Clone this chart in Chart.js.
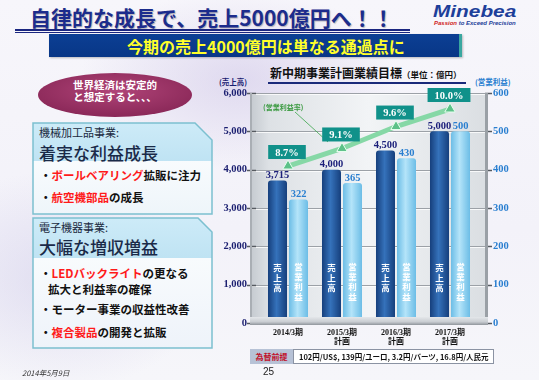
<!DOCTYPE html>
<html lang="ja">
<head>
<meta charset="utf-8">
<script src="https://cdn.jsdelivr.net/npm/chart.js@4.4.1/dist/chart.umd.min.js"></script>
<style>
  html, body { margin: 0; padding: 0; }
  body { width: 539px; height: 380px; overflow: hidden; }
  #slide {
    position: relative; width: 539px; height: 380px; overflow: hidden;
    font-family: "Noto Sans CJK JP", "Noto Sans", sans-serif;
    background:
      radial-gradient(ellipse 160px 90px at 240px 80px, rgba(205,195,230,0.55), rgba(205,195,230,0) 100%),
      radial-gradient(ellipse 150px 110px at 60px 280px, rgba(200,195,230,0.45), rgba(200,195,230,0) 100%),
      linear-gradient(180deg, #f7f6fb 0%, #f3f2f9 60%, #f6f6fa 100%);
  }
  .t { position: absolute; white-space: nowrap; line-height: 1; }
  .title { left: 30px; top: 7px; font-size: 21px; font-weight: 700; color: #1c2c8c; text-shadow: 1px 1px 1px rgba(0,0,0,0.25); }
  .rule { position: absolute; left: 15px; width: 395px; background: #1a2680; }
  .r1 { top: 29px; height: 2px; }
  .r2 { top: 32px; height: 1px; }
  .logo { left: 433px; top: 4px; font-family: "Liberation Sans", sans-serif; font-style: italic; font-weight: 700; font-size: 16px; color: #1d3f9a; transform: scaleX(1.3); transform-origin: left top; }
  .tagline { left: 434px; top: 20px; font-family: "Liberation Sans", sans-serif; font-style: italic; font-weight: 700; font-size: 6px; color: #1d3f9a; }
  .tagline span { color: #d02020; }
  .banner { position: absolute; left: 49px; top: 34px; width: 410px; height: 23px; background: linear-gradient(180deg, #0c3f94, #083686); border-right: 3px solid #3aa7a0; box-shadow: 1px 1px 2px rgba(0,0,0,0.25); }
  .banner-text { left: 127px; top: 38px; font-size: 16px; font-weight: 700; color: #ffff2a; }
  .oval { color: #fff; font-size: 10.5px; font-weight: 700; width: 154px; left: 38px; text-align: center; }
  .hd1 { left: 39px; font-size: 11px; color: #1a2a40; }
  .hd2 { left: 39px; font-size: 17px; color: #1a2a48; font-weight: 500; }
  .bl { left: 40px; font-size: 11.5px; font-weight: 700; color: #111; }
  .red { color: #ff1a1a; }
  .ctitle { left: 270px; top: 67px; font-size: 12px; font-weight: 700; color: #111; }
  .ctitle small { font-size: 8.5px; font-weight: 700; }
  .cline { position: absolute; left: 268px; top: 82px; width: 198px; height: 1.5px; background: #1a2a7a; }
  .axl { left: 219px; top: 78px; font-size: 7.5px; font-weight: 700; color: #1a2070; }
  .axr { left: 475px; top: 78px; font-size: 7.5px; font-weight: 700; color: #2a7fd0; }
  #chartWrap { position: absolute; left: 215px; top: 60px; width: 310px; height: 290px; }
  .fxl { position: absolute; left: 250px; top: 349px; width: 43px; height: 15px; background: #b7c2d6; color: #c0102a; font-size: 8px; font-weight: 700; line-height: 15px; text-align: center; }
  .fxb { position: absolute; left: 293px; top: 349px; width: 194px; height: 13px; background: #fff; border: 1px solid #8b93a3; font-size: 7.5px; font-weight: 700; color: #111; line-height: 13px; padding-left: 5px; box-sizing: content-box; }
  .date { left: 22px; top: 369px; font-size: 7.5px; font-style: italic; color: #333; }
  .page { left: 263px; top: 367px; font-size: 10px; color: #222; font-family: "Liberation Sans", sans-serif; }
</style>
</head>
<body>
<div id="slide">
  <div class="t title">自律的な成長で、売上5000億円へ！！</div>
  <div class="rule r1"></div><div class="rule r2"></div>
  <div class="t logo">Minebea</div>
  <div class="t tagline"><span>Passion</span> to Exceed Precision</div>
  <div class="banner"></div>
  <div class="t banner-text">今期の売上4000億円は単なる通過点に</div>

  <svg width="539" height="380" style="position:absolute;left:0;top:0">
    <defs>
      <radialGradient id="ovalG" cx="50%" cy="40%" r="60%">
        <stop offset="0" stop-color="#b04478"/>
        <stop offset="1" stop-color="#8a2858"/>
      </radialGradient>
      <linearGradient id="box1G" x1="0" y1="0" x2="0" y2="1">
        <stop offset="0" stop-color="#cdebf8"/>
        <stop offset="0.42" stop-color="#bfe3f3"/>
        <stop offset="0.42" stop-color="#f8fbfd"/>
        <stop offset="1" stop-color="#eef5fa"/>
      </linearGradient>
      <linearGradient id="box2G" x1="0" y1="0" x2="0" y2="1">
        <stop offset="0" stop-color="#cdebf8"/>
        <stop offset="0.31" stop-color="#bfe3f3"/>
        <stop offset="0.31" stop-color="#f8fbfd"/>
        <stop offset="1" stop-color="#eef3fa"/>
      </linearGradient>
    </defs>
    <ellipse cx="115" cy="95" rx="77" ry="22" fill="url(#ovalG)"/>
    <path d="M33,123 H195 L212,140 V214 H33 Z" fill="url(#box1G)" stroke="#7cc0d0" stroke-width="1.5"/>
    <path d="M33,218 H198 L212,232 V348 H33 Z" fill="url(#box2G)" stroke="#7cc0d0" stroke-width="1.5"/>
  </svg>

  <div class="t oval" style="top:80px">世界経済は安定的</div>
  <div class="t oval" style="top:92px">と想定すると、、、</div>

  <div class="t hd1" style="top:127px">機械加工品事業:</div>
  <div class="t hd2" style="top:144px">着実な利益成長</div>
  <div class="t bl" style="top:170px">・<span class="red">ボールベアリング</span>拡販に注力</div>
  <div class="t bl" style="top:192px">・<span class="red">航空機部品</span>の成長</div>

  <div class="t hd1" style="top:222px">電子機器事業:</div>
  <div class="t hd2" style="top:238px">大幅な増収増益</div>
  <div class="t bl" style="top:268px">・<span class="red">LEDバックライト</span>の更なる</div>
  <div class="t bl" style="top:284px;left:48px">拡大と利益率の確保</div>
  <div class="t bl" style="top:304px">・モーター事業の収益性改善</div>
  <div class="t bl" style="top:327px">・<span class="red">複合製品</span>の開発と拡販</div>

  <div class="t ctitle">新中期事業計画業績目標<small>（単位：億円）</small></div>
  <div class="cline"></div>
  <div class="t axl">(売上高)</div>
  <div class="t axr">(営業利益)</div>

  <div id="chartWrap"><canvas id="chart" width="310" height="290"></canvas></div>

  <div class="fxl">為替前提</div>
  <div class="fxb">102円/US$, 139円/ユーロ, 3.2円/バーツ, 16.8円/人民元</div>

  <div class="t date">2014年5月9日</div>
  <div class="t page">25</div>
</div>

<script>
// ---------------- data ----------------
const categories = [['2014/3期'], ['2015/3期', '計画'], ['2016/3期', '計画'], ['2017/3期', '計画']];
const salesValues = [3715, 4000, 4500, 5000];     // 売上高 (左軸)
const profitValues = [322, 365, 430, 500];        // 営業利益 (右軸)
const marginValues = [8.7, 9.1, 9.6, 10.0];       // 営業利益率 (%)
const salesAxis = { min: 0, max: 6000, step: 1000 };
const profitAxis = { min: 0, max: 600, step: 100 };
const salesInBar = ['売', '上', '高'];
const profitInBar = ['営', '業', '利', '益'];

const SERIF = '"Liberation Serif", "Noto Sans CJK JP", serif';

// cylinder-like shading for bars
function barFill(dark) {
  return (c) => {
    const el = c.element;
    const flat = dark ? '#23589e' : '#8fd0f0';
    if (!el || !isFinite(el.x) || !isFinite(el.width)) return flat;
    const ctx = c.chart.ctx;
    const g = ctx.createLinearGradient(el.x - el.width / 2, 0, el.x + el.width / 2, 0);
    if (dark) {
      g.addColorStop(0, '#163f7c'); g.addColorStop(0.45, '#3572bb'); g.addColorStop(1, '#163f7c');
    } else {
      g.addColorStop(0, '#6cbde6'); g.addColorStop(0.45, '#b4e4f9'); g.addColorStop(1, '#6cbde6');
    }
    return g;
  };
}

// back wall, grid and floor
const wallPlugin = {
  id: 'wall',
  beforeDatasetsDraw(chart) {
    const { ctx, chartArea: a, scales } = chart;
    const L = a.left - 11, R = a.right + 10;
    ctx.save();
    const g = ctx.createLinearGradient(L, 0, R, 0);
    g.addColorStop(0, '#c4c9cf'); g.addColorStop(0.08, '#dde1e5');
    g.addColorStop(0.5, '#f2f4f6'); g.addColorStop(1, '#dadee2');
    ctx.fillStyle = g;
    ctx.fillRect(L, a.top, R - L, a.bottom - a.top);
    scales.y.ticks.forEach(t => {
      const y = Math.round(scales.y.getPixelForValue(t.value)) + 0.5;
      ctx.strokeStyle = '#9ca1a7'; ctx.lineWidth = 1;
      ctx.beginPath(); ctx.moveTo(L, y); ctx.lineTo(R, y); ctx.stroke();
      ctx.strokeStyle = 'rgba(255,255,255,0.8)';
      ctx.beginPath(); ctx.moveTo(L, y + 1); ctx.lineTo(R, y + 1); ctx.stroke();
      ctx.strokeStyle = '#555a60'; ctx.lineWidth = 1.5;
      ctx.beginPath(); ctx.moveTo(L - 3, y); ctx.lineTo(L + 6, y); ctx.stroke();
      ctx.beginPath(); ctx.moveTo(R - 2, y); ctx.lineTo(R + 5, y); ctx.stroke();
    });
    ctx.fillStyle = '#a9aeb4';
    ctx.fillRect(L, a.top, 2, a.bottom - a.top);
    ctx.fillStyle = '#9aa0a6';
    ctx.fillRect(R - 2, a.top, 3, a.bottom - a.top);
    ctx.restore();
  },
  afterDatasetsDraw(chart) {
    const { ctx, chartArea: a } = chart;
    const L = a.left - 11, R = a.right + 10;
    ctx.save();
    const fg = ctx.createLinearGradient(0, a.bottom - 6, 0, a.bottom + 2);
    fg.addColorStop(0, '#e4e7ea'); fg.addColorStop(0.6, '#c9cdd2'); fg.addColorStop(1, '#8f959b');
    ctx.fillStyle = fg;
    ctx.fillRect(L, a.bottom - 6, R - L + 1, 8);
    ctx.restore();
  }
};

// value labels, text in bars, margin boxes
const labelPlugin = {
  id: 'labels',
  afterDatasetsDraw(chart) {
    const { ctx, chartArea: a } = chart;
    const salesMeta = chart.getDatasetMeta(0);
    const profitMeta = chart.getDatasetMeta(1);
    const marginMeta = chart.getDatasetMeta(2);
    ctx.save();
    ctx.textAlign = 'center';
    ctx.textBaseline = 'bottom';
    ctx.font = 'bold 10.5px ' + SERIF;
    salesMeta.data.forEach((b, i) => {
      ctx.fillStyle = '#1b1f7a';
      ctx.fillText(salesValues[i].toLocaleString('en-US'), b.x, b.y);
    });
    profitMeta.data.forEach((b, i) => {
      ctx.fillStyle = '#2a7fd0';
      ctx.fillText(String(profitValues[i]), b.x, b.y);
    });

    // vertical names inside bars
    ctx.font = 'bold 8.5px "Noto Sans CJK JP", sans-serif';
    ctx.textBaseline = 'middle';
    ctx.fillStyle = '#ffffff';
    salesMeta.data.forEach(b => salesInBar.forEach((ch, k) => ctx.fillText(ch, b.x, a.bottom - 55 + k * 9.8)));
    profitMeta.data.forEach(b => profitInBar.forEach((ch, k) => ctx.fillText(ch, b.x, a.bottom - 56 + k * 9.8)));

    // (営業利益率) note with pointer
    ctx.strokeStyle = '#3aa44a'; ctx.lineWidth = 0.8;
    ctx.beginPath(); ctx.moveTo(a.left + 34, a.top + 19); ctx.lineTo(a.left + 67, a.top + 49); ctx.stroke();
    ctx.font = 'bold 7px "Noto Sans CJK JP", sans-serif';
    ctx.fillStyle = '#3a9a40';
    ctx.textAlign = 'left';
    ctx.fillText('(営業利益率)', a.left + 2, a.top + 14);

    // margin boxes
    ctx.font = 'bold 10.5px ' + SERIF;
    ctx.textAlign = 'center';
    marginMeta.data.forEach((p, i) => {
      const txt = marginValues[i].toFixed(1) + '%';
      const w = ctx.measureText(txt).width + 14, h = 14;
      const cx = p.x - 1, cy = p.y - 14;
      ctx.fillStyle = '#10918a';
      ctx.fillRect(cx - w / 2, cy - h / 2, w, h);
      ctx.fillStyle = '#ffffff';
      ctx.fillText(txt, cx, cy + 1);
    });
    ctx.restore();
  }
};

const chart = new Chart(document.getElementById('chart').getContext('2d'), {
  data: {
    labels: categories,
    datasets: [
      {
        type: 'bar', label: '売上高', data: salesValues, yAxisID: 'y', order: 1,
        backgroundColor: barFill(true), borderRadius: { topLeft: 3, topRight: 3 }, borderSkipped: 'bottom',
        categoryPercentage: 0.778, barPercentage: 0.905
      },
      {
        type: 'bar', label: '営業利益', data: profitValues, yAxisID: 'y1', order: 1,
        backgroundColor: barFill(false), borderRadius: { topLeft: 3, topRight: 3 }, borderSkipped: 'bottom',
        categoryPercentage: 0.778, barPercentage: 0.905
      },
      {
        type: 'line', label: '営業利益率', data: marginValues, yAxisID: 'y2', order: 0,
        borderColor: '#86d8a6', borderWidth: 5, tension: 0,
        pointStyle: 'triangle', pointRadius: 6, pointBackgroundColor: '#5cc188',
        pointBorderColor: '#e8fff0', pointBorderWidth: 1
      }
    ]
  },
  options: {
    responsive: false,
    animation: false,
    devicePixelRatio: 1,
    layout: { padding: { top: 33, left: 0, right: 0, bottom: 0 } },
    plugins: { legend: { display: false }, tooltip: { enabled: false } },
    scales: {
      x: {
        grid: { display: false, drawTicks: false },
        border: { display: false },
        ticks: { color: '#111', padding: 5, font: { family: SERIF, size: 8, weight: 'bold' }, maxRotation: 0 },
        afterFit: s => { s.height = 27; }
      },
      y: {
        position: 'left', min: salesAxis.min, max: salesAxis.max,
        grid: { display: false, drawTicks: false }, border: { display: false },
        ticks: {
          stepSize: salesAxis.step, padding: 14, color: '#1b1f70',
          font: { family: SERIF, size: 10.5, weight: 'bold' },
          callback: v => v.toLocaleString('en-US')
        },
        afterFit: s => { s.width = 46; }
      },
      y1: {
        position: 'right', min: profitAxis.min, max: profitAxis.max,
        grid: { display: false, drawTicks: false }, border: { display: false },
        ticks: { stepSize: profitAxis.step, padding: 16, color: '#2a7fd0', font: { family: SERIF, size: 10.5, weight: 'bold' } },
        afterFit: s => { s.width = 48; }
      },
      y2: { display: false, min: 5.12, max: 10.365 }
    }
  },
  plugins: [wallPlugin, labelPlugin]
});
chart.update('none');
</script>
</body>
</html>
